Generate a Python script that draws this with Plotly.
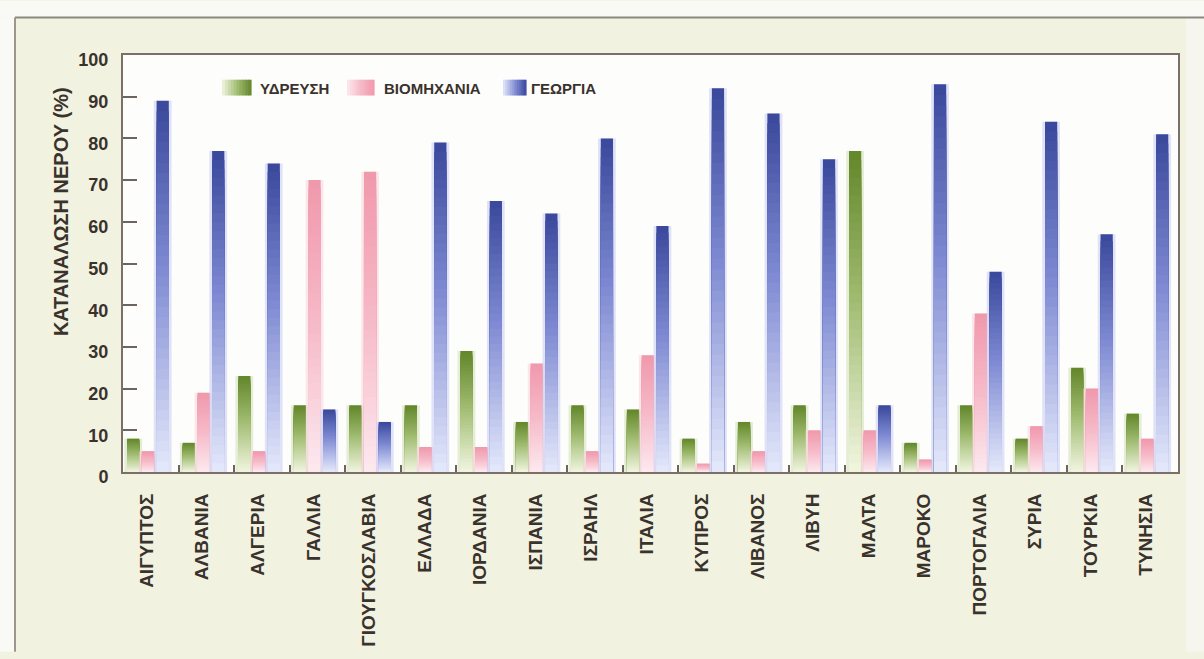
import plotly.graph_objects as go

# Water consumption by use, Mediterranean countries (% of total)
countries = ["ΑΙΓΥΠΤΟΣ", "ΑΛΒΑΝΙΑ", "ΑΛΓΕΡΙΑ", "ΓΑΛΛΙΑ", "ΓΙΟΥΓΚΟΣΛΑΒΙΑ", "ΕΛΛΑΔΑ",
             "ΙΟΡΔΑΝΙΑ", "ΙΣΠΑΝΙΑ", "ΙΣΡΑΗΛ", "ΙΤΑΛΙΑ", "ΚΥΠΡΟΣ", "ΛΙΒΑΝΟΣ", "ΛΙΒΥΗ",
             "ΜΑΛΤΑ", "ΜΑΡΟΚΟ", "ΠΟΡΤΟΓΑΛΙΑ", "ΣΥΡΙΑ", "ΤΟΥΡΚΙΑ", "ΤΥΝΗΣΙΑ"]
water_supply = [8, 7, 23, 16, 16, 16, 29, 12, 16, 15, 8, 12, 16, 77, 7, 16, 8, 25, 14]
industry = [5, 19, 5, 70, 72, 6, 6, 26, 5, 28, 2, 5, 10, 10, 3, 38, 11, 20, 8]
agriculture = [89, 77, 74, 15, 12, 79, 65, 62, 80, 59, 92, 86, 75, 16, 93, 48, 84, 57, 81]

series_names = ["ΥΔΡΕΥΣΗ", "ΒΙΟΜΗΧΑΝΙΑ", "ΓΕΩΡΓΙΑ"]
y_ticks = list(range(0, 101, 10))

# ---- layout geometry (pixels) ----
W, H = 1204, 659
ML, MR, MT, MB = 123, 26, 55, 182
PW, PH = W - ML - MR, H - MT - MB


def xp(px):
    return (px - ML) / PW


def yp(py):
    return (H - MB - py) / PH


# colour ramps: (position from top of bar, colour)
ramps = {
    "ΥΔΡΕΥΣΗ": [(0.0, (98, 134, 42)), (0.45, (158, 186, 110)), (1.0, (241, 245, 224))],
    "ΒΙΟΜΗΧΑΝΙΑ": [(0.0, (240, 152, 172)), (0.5, (246, 186, 200)), (1.0, (253, 233, 239))],
    "ΓΕΩΡΓΙΑ": [(0.0, (58, 72, 156)), (0.45, (126, 138, 210)), (1.0, (229, 233, 251))],
}
halo = {"ΥΔΡΕΥΣΗ": "rgba(205,222,178,0.5)",
        "ΒΙΟΜΗΧΑΝΙΑ": "rgba(250,208,218,0.5)",
        "ΓΕΩΡΓΙΑ": "rgba(195,202,245,0.5)"}


def ramp_color(stops, t):
    for (t0, c0), (t1, c1) in zip(stops[:-1], stops[1:]):
        if t <= t1:
            f = (t - t0) / (t1 - t0) if t1 > t0 else 0
            c = [round(a + (b - a) * f) for a, b in zip(c0, c1)]
            return "rgb({},{},{})".format(*c)
    return "rgb({},{},{})".format(*stops[-1][1])


fig = go.Figure()

bar_w = 0.22
halo_w = 0.32
centers = {"ΥΔΡΕΥΣΗ": -0.315, "ΒΙΟΜΗΧΑΝΙΑ": -0.05, "ΓΕΩΡΓΙΑ": 0.215}
values = {"ΥΔΡΕΥΣΗ": water_supply, "ΒΙΟΜΗΧΑΝΙΑ": industry, "ΓΕΩΡΓΙΑ": agriculture}

K = 36
for name in series_names:
    vals = values[name]
    c = centers[name]
    # soft glow behind each bar
    fig.add_trace(go.Bar(x=countries, y=vals, offset=c - halo_w / 2, width=halo_w,
                         marker=dict(color=halo[name], line=dict(width=0)),
                         showlegend=False, hoverinfo="skip"))
    # vertical gradient: nested bars, shortest drawn last
    for j in range(K):
        frac = 1 - j / K
        t = (j + 0.5) / K
        fig.add_trace(go.Bar(
            x=countries, y=[v * frac for v in vals],
            offset=c - bar_w / 2, width=bar_w,
            marker=dict(color=ramp_color(ramps[name], t), line=dict(width=0)),
            showlegend=False, hoverinfo="skip" if j else None, name=name))

text_col = "#3a322c"
font_fam = "Liberation Sans, Arial, sans-serif"

shapes = []
# page surroundings
shapes.append(dict(type="rect", xref="paper", yref="paper", x0=xp(0), x1=xp(W), y0=yp(0), y1=yp(17),
                   fillcolor="#f9f9f6", line=dict(width=0), layer="below"))
shapes.append(dict(type="rect", xref="paper", yref="paper", x0=xp(0), x1=xp(15), y0=yp(17), y1=yp(H),
                   fillcolor="#f9f9f6", line=dict(width=0), layer="below"))
shapes.append(dict(type="rect", xref="paper", yref="paper", x0=xp(1186), x1=xp(W), y0=yp(17), y1=yp(H),
                   fillcolor="#f6f6ef", line=dict(width=0), layer="below"))
shapes.append(dict(type="line", xref="paper", yref="paper", x0=xp(15), x1=xp(W), y0=yp(17), y1=yp(17),
                   line=dict(color="#8e8882", width=2)))
shapes.append(dict(type="line", xref="paper", yref="paper", x0=xp(15), x1=xp(15), y0=yp(17), y1=yp(H),
                   line=dict(color="#a0958c", width=2)))

# legend swatches with horizontal gradient (light -> dark)
annotations = []
legend_items = [("ΥΔΡΕΥΣΗ", 222, 251, 258), ("ΒΙΟΜΗΧΑΝΙΑ", 347, 374, 382), ("ΓΕΩΡΓΙΑ", 503, 526, 529)]
n_sw = 10
for name, sx0, sx1, tx in legend_items:
    sw_w = sx1 - sx0
    for i in range(n_sw):
        x0 = sx0 + sw_w * i / n_sw
        x1 = sx0 + sw_w * (i + 1) / n_sw
        t = 1 - (i + 0.5) / n_sw
        shapes.append(dict(type="rect", xref="paper", yref="paper",
                           x0=xp(x0), x1=xp(x1 + 0.6), y0=yp(96), y1=yp(80),
                           fillcolor=ramp_color(ramps[name], t), line=dict(width=0)))
    annotations.append(dict(x=xp(tx), y=yp(88.5), xref="paper", yref="paper", text=name,
                            showarrow=False, xanchor="left", yanchor="middle",
                            font=dict(family=font_fam, size=15, color=text_col, weight="bold")))

# y-axis title
annotations.append(dict(x=xp(61), y=yp(214), xref="paper", yref="paper",
                        text="ΚΑΤΑΝΑΛΩΣΗ ΝΕΡΟΥ (%)", textangle=-90, showarrow=False,
                        xanchor="center", yanchor="middle",
                        font=dict(family=font_fam, size=20, color=text_col, weight="bold")))

fig.update_layout(
    width=W, height=H,
    margin=dict(l=ML, r=MR, t=MT, b=MB, pad=0),
    paper_bgcolor="#f2f2e1",
    plot_bgcolor="#fdfdfb",
    barmode="overlay",
    showlegend=False,
    shapes=shapes,
    annotations=annotations,
    font=dict(family=font_fam, color=text_col),
    xaxis=dict(
        type="category", categoryorder="array", categoryarray=countries,
        range=[-0.5, len(countries) - 0.5],
        tickson="boundaries", ticks="inside", ticklen=7, tickwidth=2, tickcolor="#6e645e",
        tickangle=-90, ticklabelstandoff=12, ticklabelshift=-4,
        tickfont=dict(family=font_fam, size=19, color=text_col, weight="bold"),
        showline=True, linecolor="#7b6f68", linewidth=2, mirror=True,
        showgrid=False, zeroline=False,
    ),
    yaxis=dict(
        range=[0, 100], tickvals=y_ticks,
        ticks="inside", ticklen=14, tickwidth=2, tickcolor="#6e645e",
        ticklabelstandoff=9, ticklabelshift=5,
        tickfont=dict(family=font_fam, size=18, color=text_col, weight="bold"),
        showline=True, linecolor="#7b6f68", linewidth=2, mirror=True,
        showgrid=False, zeroline=False,
    ),
)

fig.write_html("out.html")
